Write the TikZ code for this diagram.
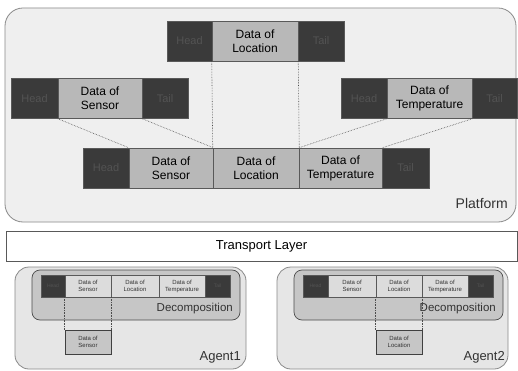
\documentclass[tikz,border=0pt]{standalone}
\usepackage{fontspec}
\setmainfont{Liberation Sans}
\usetikzlibrary{positioning}
\definecolor{panel}{HTML}{EFEFEF}
\definecolor{panelline}{HTML}{8A8A8A}
\definecolor{darkcell}{HTML}{3A3A3A}
\definecolor{darktext}{HTML}{535353}
\definecolor{datacell}{HTML}{B8B8B8}
\definecolor{agentfill}{HTML}{E6E6E6}
\definecolor{decofill}{HTML}{C6C6C6}
\definecolor{smallcell}{HTML}{DCDCDC}
\tikzset{
  cell/.style={draw=gray!70!black, line width=0.5pt, inner sep=0pt, align=center, anchor=center},
  hdcell/.style={cell, fill=darkcell, text=darktext, font=\fontsize{11}{12}\selectfont},
  datbox/.style={cell, fill=datacell, text=black, font=\fontsize{12}{14}\selectfont},
  bigrow/.style={minimum height=40pt},
  smallhd/.style={cell, fill=darkcell, text=darktext, font=\fontsize{5}{6}\selectfont, minimum height=22pt},
  smalldat/.style={cell, fill=smallcell, text=black!80, font=\fontsize{6}{7}\selectfont, minimum height=22pt},
  link/.style={densely dotted, gray!60!black, line width=0.6pt},
  frame/.style={draw=panelline, line width=0.8pt},
  tag/.style={font=\fontsize{13}{15}\selectfont, text=black!80, anchor=east, inner sep=0pt},
}
\begin{document}
\begin{tikzpicture}[x=1pt, y=-1pt]
\useasboundingbox (0,0) rectangle (518,371);
\fill[white] (0,0) rectangle (518,371);

% platform panel
\draw[frame, fill=panel, rounded corners=18pt] (5,8) rectangle (516,222);
\node[tag, font=\fontsize{14}{16}\selectfont] (plat) at (508,203) {Platform};

% packet carrying only location data
\node[hdcell, bigrow, minimum width=45pt] (tH) at (189.5,41) {Head};
\node[datbox, bigrow, minimum width=86pt] (tD) at (255,41) {Data of\\Location};
\node[hdcell, bigrow, minimum width=46pt] (tT) at (321,41) {Tail};

% packet carrying only sensor data
\node[hdcell, bigrow, minimum width=47pt] (lH) at (34.5,98.5) {Head};
\node[datbox, bigrow, minimum width=84pt] (lD) at (100,98.5) {Data of\\Sensor};
\node[hdcell, bigrow, minimum width=46pt] (lT) at (165,98.5) {Tail};

% packet carrying only temperature data
\node[hdcell, bigrow, minimum width=46pt] (rH) at (364,98.5) {Head};
\node[datbox, bigrow, minimum width=85pt] (rD) at (429.5,98.5) {Data of\\Temperature};
\node[hdcell, bigrow, minimum width=45pt] (rT) at (494.5,98.5) {Tail};

% merged packet
\node[hdcell, bigrow, minimum width=46pt] (bH) at (106,168) {Head};
\node[datbox, bigrow, minimum width=84pt] (bS) at (171,168) {Data of\\Sensor};
\node[datbox, bigrow, minimum width=86pt] (bL) at (256,168) {Data of\\Location};
\node[datbox, bigrow, minimum width=83pt] (bTm) at (340.5,168) {Data of\\Temperature};
\node[hdcell, bigrow, minimum width=47pt] (bT) at (405.5,168) {Tail};

% how the pieces merge
\draw[link] (tD.south west) -- (bL.north west);
\draw[link] (tD.south east) -- (bL.north east);
\draw[link] (lD.south west) -- (bS.north west);
\draw[link] (lD.south east) -- (bS.north east);
\draw[link] (rD.south west) -- (bTm.north west);
\draw[link] (rD.south east) -- (bTm.north east);

% transport layer
\node[draw=gray!70!black, line width=0.8pt, fill=white, minimum width=511pt, minimum height=30pt,
      font=\fontsize{13}{15}\selectfont] (tl) at (261.5,246) {Transport Layer};

% agent 1
\draw[frame, fill=agentfill, rounded corners=14pt] (15,267) rectangle (246,369);
\draw[draw=gray!60!black, line width=0.7pt, fill=decofill, rounded corners=8pt] (32,270) rectangle (240,320);
\node[tag, font=\fontsize{11.5}{13}\selectfont] (dec1) at (233,309) {Decomposition};
\node[smallhd, minimum width=24pt] (aH) at (53,286) {Head};
\node[smalldat, minimum width=46pt] (aS) at (88,286) {Data of\\Sensor};
\node[smalldat, minimum width=48pt] (aL) at (135,286) {Data of\\Location};
\node[smalldat, minimum width=46pt] (aTm) at (182,286) {Data of\\Temperature};
\node[smallhd, minimum width=25pt] (aT) at (217.5,286) {Tail};
\node[smalldat, fill=decofill, draw=gray!50!black, minimum width=46pt, minimum height=24pt] (aX) at (88,342) {Data of\\Sensor};
\draw[link] (aS.south west) -- (aX.north west);
\draw[link] (aS.south east) -- (aX.north east);
\node[tag] (ag1) at (241,357) {Agent1};

% agent 2
\draw[frame, fill=agentfill, rounded corners=14pt] (277,267) rectangle (508,369);
\draw[draw=gray!60!black, line width=0.7pt, fill=decofill, rounded corners=8pt] (294,270) rectangle (503,320);
\node[tag, font=\fontsize{11.5}{13}\selectfont] (dec2) at (496,309) {Decomposition};
\node[smallhd, minimum width=25pt] (cH) at (315.5,286) {Head};
\node[smalldat, minimum width=48pt] (cS) at (352,286) {Data of\\Sensor};
\node[smalldat, minimum width=46pt] (cL) at (399,286) {Data of\\Location};
\node[smalldat, minimum width=46pt] (cTm) at (445,286) {Data of\\Temperature};
\node[smallhd, minimum width=25pt] (cT) at (480.5,286) {Tail};
\node[smalldat, fill=decofill, draw=gray!50!black, minimum width=46pt, minimum height=24pt] (cX) at (399,342) {Data of\\Location};
\draw[link] (cL.south west) -- (cX.north west);
\draw[link] (cL.south east) -- (cX.north east);
\node[tag] (ag2) at (505,357) {Agent2};
\end{tikzpicture}
\end{document}
